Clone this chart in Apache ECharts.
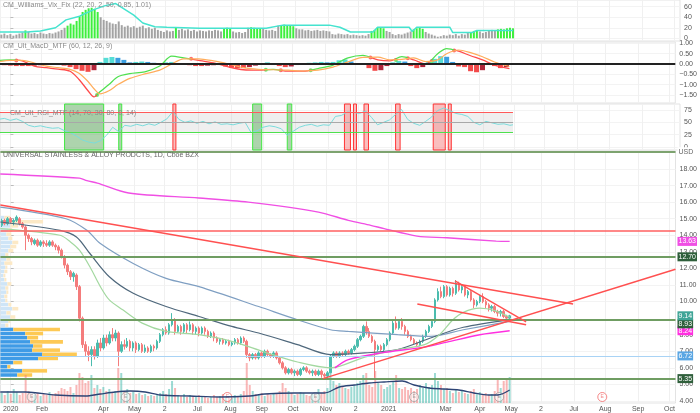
<!DOCTYPE html>
<html><head><meta charset="utf-8">
<script src="https://cdn.jsdelivr.net/npm/echarts@6/dist/echarts.min.js"></script>
<style>html,body{margin:0;padding:0;background:#fff}#c{width:700px;height:413px}</style>
</head><body><div id="c"></div>
<script>
// ---------- x axis (trading-day index, 0 = 2 Jan 2020) ----------
const tickIdx = [0,21,62,83,103,125,147,168,189,211,231,253,291,314,335,355,377,398,420,441];
const tickLabels = ['2020','Feb','Apr','May','2','Jul','Aug','Sep','Oct','Nov','2','2021','Mar','Apr','May','2','Jul','Aug','Sep','Oct'];
const FIRST_BAR = -6, BAR_STEP = 2;

// ---------- price candles [open, close, low, high] ----------
const ohlc = [
[14.6,14.9,14.5,15.0],[14.9,14.7,14.6,15.0],[14.7,15.0,14.6,15.1],[15.0,14.8,14.7,15.1],[14.8,14.9,14.6,15.0],[14.9,15.1,14.8,15.2],[15.0,14.7,14.6,15.1],[14.7,14.5,14.4,14.8],[14.5,14.0,13.1,14.6],[14.0,13.8,13.6,14.1],
[13.8,13.6,13.4,13.9],[13.5,13.7,13.4,13.8],[13.7,13.4,13.3,13.8],[13.4,13.6,13.3,13.7],[13.6,13.5,13.3,13.7],[13.5,13.4,13.3,13.7],[13.4,13.6,13.3,13.7],[13.6,13.4,13.3,13.7],[13.4,13.3,13.1,13.5],[13.3,13.1,12.9,13.4],
[13.1,12.7,12.6,13.2],[12.7,12.2,12.0,12.8],[12.2,11.8,11.6,12.3],[11.8,11.5,11.3,11.9],[11.5,11.7,11.2,11.8],[11.6,10.9,10.7,11.7],[10.9,9.0,8.8,11.0],[9.0,7.4,7.2,9.1],[7.4,7.0,6.7,7.6],[7.0,6.8,6.4,7.3],
[6.8,7.1,6.1,7.3],[7.1,6.7,6.5,7.3],[6.7,7.5,6.6,7.7],[7.5,7.2,7.0,7.8],[7.2,7.8,7.1,8.0],[7.8,7.5,7.3,8.0],[7.5,8.0,7.4,8.2],[8.0,7.8,7.6,8.4],[7.8,8.1,7.6,8.3],[8.1,7.0,6.1,8.2],
[7.0,7.4,6.9,7.6],[7.4,7.3,7.1,7.7],[7.3,7.6,7.2,7.8],[7.6,7.2,7.0,7.7],[7.2,7.5,7.0,7.6],[7.5,7.1,6.9,7.6],[7.1,7.4,7.0,7.5],[7.4,7.0,6.9,7.5],[7.0,7.2,6.9,7.4],[7.2,7.0,6.9,7.3],
[7.0,7.3,6.9,7.4],[7.3,7.2,7.0,7.4],[7.2,7.6,7.1,7.7],[7.6,8.0,7.5,8.1],[8.0,8.3,7.9,8.4],[8.3,8.1,8.0,8.5],[8.1,8.6,8.0,8.7],[8.6,8.9,8.5,9.3],[8.9,8.2,8.0,9.0],[8.2,8.5,8.1,8.6],
[8.5,8.2,8.0,8.6],[8.2,8.6,8.1,8.7],[8.6,8.3,8.1,8.7],[8.3,8.6,8.2,8.8],[8.6,8.2,8.0,8.7],[8.2,8.4,8.0,8.5],[8.4,8.1,7.9,8.5],[8.1,8.4,8.0,8.5],[8.4,8.2,8.0,8.5],[8.2,7.9,7.8,8.3],
[7.9,8.1,7.8,8.2],[8.1,7.8,7.6,8.2],[7.8,7.6,7.5,7.9],[7.6,7.7,7.4,7.8],[7.7,7.5,7.4,7.8],[7.5,7.6,7.4,7.7],[7.6,7.4,7.3,7.7],[7.4,7.5,7.3,7.6],[7.5,7.7,7.4,7.8],[7.7,7.5,7.4,7.8],
[7.5,7.8,7.4,7.9],[7.8,7.6,7.5,7.9],[7.6,6.8,6.6,7.7],[6.8,6.6,6.4,6.9],[6.6,6.8,6.5,6.9],[6.8,6.6,6.5,6.9],[6.6,6.9,6.5,7.0],[6.9,6.7,6.6,7.0],[6.7,7.0,6.6,7.1],[7.0,6.8,6.7,7.1],
[6.8,6.7,6.6,6.9],[6.7,6.9,6.6,7.0],[6.9,6.6,6.5,7.0],[6.6,6.3,6.2,6.7],[6.3,6.0,5.9,6.4],[6.0,5.7,5.6,6.1],[5.7,5.9,5.6,6.0],[5.9,5.7,5.6,6.0],[5.7,5.8,5.5,5.9],[5.8,5.6,5.5,5.9],
[5.6,5.9,5.5,6.0],[5.9,6.0,5.8,6.1],[6.0,5.8,5.7,6.1],[5.8,5.7,5.6,5.9],[5.7,5.8,5.5,5.9],[5.8,5.6,5.5,5.9],[5.6,5.8,5.5,5.9],[5.8,5.6,5.4,5.9],[5.6,5.5,5.4,5.7],[5.5,5.7,5.4,5.8],
[5.7,6.7,5.7,6.8],[6.7,6.9,6.6,7.0],[6.9,6.7,6.6,7.0],[6.7,6.9,6.6,7.0],[6.9,6.8,6.7,7.0],[6.8,7.0,6.7,7.1],[7.0,6.9,6.8,7.1],[6.9,7.1,6.8,7.2],[7.1,7.3,7.0,7.4],[7.3,7.7,7.2,7.8],
[7.7,7.9,7.6,8.0],[7.9,8.5,7.8,8.6],[8.5,8.2,8.0,8.8],[8.2,7.9,7.8,8.4],[7.9,7.6,7.5,8.0],[7.6,7.1,5.4,7.7],[7.1,7.3,7.0,7.4],[7.3,7.1,7.0,7.4],[7.1,7.4,7.0,7.5],[7.4,7.7,7.3,7.8],
[7.7,8.1,7.6,8.2],[8.1,8.7,8.0,8.9],[8.7,8.4,8.3,9.1],[8.4,8.8,8.3,8.9],[8.8,8.5,8.3,9.0],[8.5,8.2,8.0,8.6],[8.2,7.9,7.8,8.3],[7.9,7.7,7.6,8.0],[7.7,7.5,7.4,7.8],[7.5,7.4,7.25,7.6],
[7.4,7.6,7.3,7.7],[7.6,7.9,7.5,8.0],[7.9,8.2,7.8,8.3],[8.2,8.5,8.1,8.6],[8.5,8.8,8.4,8.9],[8.8,10.1,8.7,10.2],[10.1,10.6,10.0,10.8],[10.6,10.3,10.2,10.9],[10.3,10.9,10.2,11.0],[10.9,10.4,10.3,11.0],
[10.4,10.8,10.3,10.9],[10.8,10.5,10.3,10.9],[10.5,11.1,10.4,11.3],[11.1,10.7,10.6,11.2],[10.7,10.9,10.5,11.0],[10.9,10.4,10.3,11.0],[10.4,10.6,10.2,10.7],[10.6,10.1,10.0,10.7],[10.1,9.8,9.6,10.2],[9.8,10.0,9.7,10.1],
[10.0,10.3,9.9,10.4],[10.3,10.0,9.9,10.5],[10.0,9.8,9.6,10.1],[9.8,9.6,9.4,9.9],[9.6,9.7,9.4,9.8],[9.7,9.4,9.3,9.8],[9.4,9.3,9.1,9.5],[9.3,9.4,9.1,9.5],[9.4,9.1,9.0,9.5],[9.1,9.0,8.9,9.2],
[9.0,9.14,8.95,9.2]
];
const volume = [
10,8,12,9,14,11,8,10,28,12, 9,8,10,7,9,8,11,9,10,12, 15,14,12,16,10,18,30,26,20,22, 28,15,18,14,16,12,14,10,12,35,
30,12,14,10,11,9,10,8,9,7, 8,7,9,10,12,9,14,22,15,8, 7,9,6,8,7,6,8,6,7,5, 6,8,6,7,9,6,7,5,8,6,
9,12,40,18,12,9,8,10,7,9, 8,10,9,12,20,15,12,10,8,9, 11,10,8,7,9,8,14,10,12,15, 35,22,18,20,16,15,14,16,18,20,
22,28,30,18,16,32,20,18,14,16, 18,22,28,15,14,16,13,15,12,14, 18,15,20,16,18,30,22,18,14,15, 12,10,14,11,12,10,9,12,14,10,
11,9,10,8,9,12,25,15,22,24, 26];
const volMaX = [-7,10,30,50,60,70,80,90,100,120,140,160,170,190,210,220,230,240,250,262,270,280,290,300,310,320,326,334];
const volMaY = [11,11,8,7,9,11,12,11,8,7,6,7,9,10,10,16,18,20,21,22,18,15,14,13,10,8,8,13];

// ---------- moving averages ----------
const maUpperX = [-7,46,51,58,79,126,159,206,226,241,250,272,292,325,334];
const maUpperY = [17.7,17.45,17.3,17.15,16.55,16.25,16.0,15.4,14.9,14.6,14.4,13.95,13.85,13.65,13.63];
const maPinkX = [217,226,248,277,292,314,334];
const maPinkY = [6.0,6.5,6.9,7.25,7.55,8.0,8.24];
const maGreenX = [-7,33,40,46,53,60,66,75,88,104,126,148,170,192,214,237,259,277,287,296,303,314,324,334];
const maGreenY = [14.4,14.0,13.6,13.1,12.1,10.9,10.1,9.5,8.7,8.2,8.0,7.6,6.95,6.35,6.0,6.65,7.1,7.4,8.0,8.9,9.35,9.6,9.45,9.05];
const maSlateX = [-7,33,44,53,66,82,104,126,148,166,192,214,237,259,281,303,334];
const maSlateY = [14.8,14.3,13.9,12.9,11.5,10.5,9.7,9.1,8.5,8.1,7.4,6.8,6.9,7.1,7.8,8.45,8.9];
const maSteelX = [-7,37,51,60,82,104,126,166,192,214,226,259,281,303,334];
const maSteelY = [15.7,15.0,14.3,13.5,12.3,11.4,10.9,9.7,8.9,8.3,8.2,8.0,7.9,8.3,8.8];

// ---------- drawings ----------
const hLevels = [19.04, 14.28, 12.70, 8.93, 6.72, 5.35];
const hKinds  = ['usd','red','green','green','blue','green'];
const trendLines = [[-6.9,15.83,376.5,9.85],[209,5.35,445,11.95],[297.4,11.25,345,8.77],[272.2,9.85,345,8.6]];
const lastPrice = 9.14;
const earnIdx = [14,77,145,204,270,327,396];
const earnHot = [0,0,1,0,0,0,1];

// ---------- volume profile ----------
const vpPrice = [5.55,5.80,6.05,6.30,6.55,6.80,7.05,7.30,7.55,7.80,8.05,8.30,8.55,8.80,9.05,9.30,9.55,9.80,10.05,10.30,10.55,10.80,11.05,11.30,11.55,11.80,12.05,12.30,12.55,12.80,13.05,13.30,13.55,13.80,14.05,14.30,14.55,14.80,15.05];
const vpUp = [17,22,7,13,38,42,32,33,30,27,25,13,5,8,10,6,12,8,5,4,6,5,7,4,3,4,5,4,6,5,8,10,12,8,6,8,10,9,4];
const vpDn = [15,25,3,9,20,35,28,9,33,11,18,47,3,2,5,4,6,3,2,3,2,3,4,2,2,3,2,8,4,3,5,6,6,4,5,4,8,34,6];
const vaHigh = 8.45;

// ---------- Williams Vix Fix ----------
const vix = [
7,9,6,8,5,7,9,11,15,12, 9,10,8,11,9,8,10,9,11,13, 16,20,24,28,26,33,42,50,54,57, 58,56,50,40,35,33,30,28,27,32,
25,22,24,21,23,20,22,24,19,21, 18,20,16,14,12,15,13,14,20,16, 18,15,17,14,16,13,15,14,13,15, 14,16,15,13,19,20,19,13,11,12,
10,12,20,21,20,19,19,18,16,15, 16,14,24,25,26,25,24,23,19,17, 17,15,16,14,15,16,14,15,14,13, 8,7,9,8,7,8,6,7,6,5,
6,5,8,14,16,20,21,19,14,12, 8,6,8,7,9,11,13,17,19,20, 18,12,9,7,5,3,4,6,5,7, 6,8,5,8,7,10,12,14,15,13,
10,12,14,16,15,17,18,17,19,20, 19];
const vixHighlight = [[10,10],[38,58],[110,110],[142,146],[160,166],[180,188],[240,248],[268,274],[306,310],[324,334]];
const vixBandX = [-7,11,20,30,37,46,55,63,70,76,82,88,96,104,126,170,181,212,219,226,241,244,265,267,270,292,294,307,310,334];
const vixBandY = [12,12,14,20,35,42,54,62,66,55,44,29,22,21,19,19,25,25,21,12,12,21,21,13,21,21,11,11,15,15];

// ---------- MACD ----------
const macdX = [-7,0,8,16,24,32,40,46,52,56,60,66,72,80,90,100,108,116,126,136,146,156,166,176,186,196,206,216,226,236,246,254,262,270,278,286,292,300,308,316,324,334];
const macdLine = [0.18,0.2,0.15,-0.1,-0.18,-0.25,-0.35,-0.75,-1.3,-1.6,-1.35,-1.0,-0.62,-0.47,-0.38,-0.1,0.38,0.3,0.18,0.05,-0.14,-0.28,-0.3,-0.26,-0.35,-0.35,-0.22,-0.05,0.3,0.42,0.2,0.15,0.36,0.2,0.0,0.5,0.75,0.62,0.4,0.2,-0.05,-0.22];
const macdSignal = [0.12,0.18,0.18,0.05,-0.1,-0.18,-0.26,-0.45,-0.85,-1.2,-1.45,-1.3,-1.0,-0.7,-0.48,-0.3,0.0,0.25,0.25,0.15,0.0,-0.18,-0.26,-0.28,-0.3,-0.34,-0.3,-0.15,0.1,0.32,0.33,0.2,0.22,0.3,0.12,0.2,0.5,0.68,0.55,0.35,0.1,-0.12];
const macdHist = [
-0.04,-0.06,-0.08,-0.1,-0.1,-0.1,-0.08,-0.06,-0.05,-0.04, -0.05,-0.08,-0.15,-0.25,-0.33,-0.38,-0.3,0.1,0.3,0.34,
0.3,0.2,0.08,0.1,0.12,0.1,0.06,0.04,0.08,0.1, 0.05,-0.02,-0.06,-0.1,-0.1,-0.08,-0.06,-0.05,-0.12,-0.18,
-0.2,-0.2,-0.15,-0.08,0.05,0.08,-0.05,-0.1,-0.15,-0.12, -0.05,0.04,0.06,0.08,0.1,0.08,0.1,0.18,0.22,0.12,
0.05,0.02,-0.2,-0.33,-0.3,-0.1,0.08,0.15,0.12,-0.1, -0.2,-0.15,0.1,0.25,0.38,0.35,0.1,-0.12,-0.15,-0.35,
-0.4,-0.3,-0.05,-0.1,-0.2,-0.15];
const HIST_FIRST = -8, HIST_STEP = 4;
const macdCross = [4,58,121,171,181,201,241,258,266,282,297];
const macdCrossY = [0.17,-1.5,0.25,-0.28,-0.3,-0.3,0.32,0.2,0.28,0.15,0.65];

// ---------- RSI ----------
const rsi = [
56,58,54,57,52,44,41,43,40,38, 39,33,29,22,14,10,8,13,24,40, 31,44,42,46,43,47,44,50,57,72,
56,50,53,48,52,47,51,46,47,45, 48,50,29,33,40,43,41,37,24,32, 40,44,46,42,45,44,62,64,71,70,
68,73,60,45,50,55,66,76,56,48, 44,52,61,74,79,74,68,66,62,50, 45,52,49,46,47,44,45];
const RSI_FIRST = -8, RSI_STEP = 4, RSI_LAST = 334;
const rsiLevels = [70, 50, 30];
const rsiGreenBands = [[36,62],[72,74],[161,167],[184,187]];
const rsiRedBands = [[108,110],[222,226],[228,230],[235,238],[256,259],[281,289],[291,293]];

// =====================================================
const zip = (a, b) => a.map((v, i) => [v, b[i]]);
const barIdx = ohlc.map((_, i) => FIRST_BAR + BAR_STEP * i);
const X_MIN = -6.9, X_MAX = 445;
const UP = '#4bbcae', DN = '#f47c7c';
const FONT = 'Liberation Sans, Arial, sans-serif';
const CLEAR = 'rgba(0,0,0,0)';

const grids = [
  {top:0, height:41}, {top:42, height:61}, {top:104, height:46}, {top:151, height:252}
].map(g => Object.assign({left:0, right:20, show:true, borderColor:'#e3e3e3', borderWidth:1}, g));

function xAx(gi, showLabel) {
  return {type:'value', gridIndex:gi, min:X_MIN, max:X_MAX,
    axisLine:{show:false}, axisTick:{show:false, customValues:tickIdx},
    axisLabel:{show:showLabel, customValues:tickIdx, fontSize:7, color:'#555', margin:3,
      formatter: v => { const k = tickIdx.indexOf(v); return k >= 0 ? tickLabels[k] : ''; }},
    splitLine:{show:true, lineStyle:{color:'#f0f0f0'}}};
}
function yAx(gi, min, max, ticks, fmt) {
  return {type:'value', gridIndex:gi, position:'right', min, max,
    axisLine:{show:false},
    axisTick:{show:true, customValues:ticks, length:3, lineStyle:{color:'#bbb'}},
    axisLabel:{customValues:ticks, formatter:fmt, fontSize:7, color:'#555', margin:4},
    splitLine:{show:true, lineStyle:{color:'#f3f3f3'}}};
}
const f2 = v => (v < 0 ? '\u2212' : '') + Math.abs(v).toFixed(2);

const xAxis = [xAx(0,false), xAx(1,false), xAx(2,false), xAx(3,true),
  {type:'value', gridIndex:3, min:0, max:680, show:false}];
const yAxis = [
  yAx(0, -5.1, 72.7, [0,20,40,60], v => String(v)),
  yAx(1, -1.893, 1.068, [-1.5,-1,-0.5,0,0.5,1], f2),
  yAx(2, -6.1, 87.2, [0,25,50,75], v => String(v)),
  yAx(3, 3.878, 19.086, [4,5,6,7,8,10,11,12,13,14,15,16,17,18], v => v.toFixed(2)),
  {type:'value', gridIndex:3, min:0, max:252, show:false}
];

const isHi = x => vixHighlight.some(r => x >= r[0] && x <= r[1]);
const boxLabel = (text, bg, fg) => ({show:true, position:'end', distance:2, formatter:text,
  backgroundColor:bg, color:fg || '#fff', padding:[1,1,1,1], fontSize:7, fontFamily:FONT});

const series = [];
// Vix Fix
series.push({type:'bar', xAxisIndex:0, yAxisIndex:0, barWidth:2, silent:true,
  data: barIdx.map((x, i) => ({value:[x, vix[i]], itemStyle:{color: isHi(x) ? '#3def3d' : '#a3a3a3'}}))});
series.push({type:'line', xAxisIndex:0, yAxisIndex:0, data: zip(vixBandX, vixBandY), showSymbol:false,
  lineStyle:{color:'#45e3cf', width:1.5}, silent:true});
// MACD
series.push({type:'bar', xAxisIndex:1, yAxisIndex:1, barWidth:5, silent:true,
  data: macdHist.map((v, i) => {
    const p = i > 0 ? macdHist[i-1] : v;
    const c = v >= 0 ? (v >= p ? '#55ddd6' : '#3b9fe0') : (v <= p ? '#f24a4a' : '#b0253a');
    return {value:[HIST_FIRST + HIST_STEP * i, v], itemStyle:{color:c}};
  }),
  markLine:{silent:true, symbol:['none','none'], label:{show:false},
    lineStyle:{color:'#222', width:2, type:'solid'}, data:[{yAxis:0}]}});
const macdSeriesIndex = series.length;
series.push({type:'line', xAxisIndex:1, yAxisIndex:1, data: zip(macdX, macdLine), showSymbol:false, smooth:0.3,
  lineStyle:{width:1.3}, silent:true});
series.push({type:'line', xAxisIndex:1, yAxisIndex:1, data: zip(macdX, macdSignal), showSymbol:false, smooth:0.3,
  lineStyle:{width:1.2, color:'#ffad5c'}, silent:true});
series.push({type:'scatter', xAxisIndex:1, yAxisIndex:1, symbolSize:4, silent:true,
  data: macdCross.map((x, i) => ({value:[x, macdCrossY[i]], itemStyle:{color: i % 2 === 0 ? '#ff4b4b' : '#4fe04f'}}))});
// RSI
series.push({type:'line', xAxisIndex:2, yAxisIndex:2, showSymbol:false, silent:true,
  data: rsi.map((v, i) => [Math.min(RSI_FIRST + RSI_STEP * i, RSI_LAST), v]),
  lineStyle:{color:'#7adcdc', width:1},
  markArea:{silent:true, data:[
    [{xAxis:X_MIN, yAxis:rsiLevels[2], itemStyle:{color:'rgba(190,190,190,0.25)', borderWidth:0}}, {xAxis:RSI_LAST, yAxis:rsiLevels[0]}],
    ...rsiGreenBands.map(b => [{xAxis:b[0], itemStyle:{color:'rgba(92,170,92,0.5)', borderColor:'#43e843', borderWidth:1}}, {xAxis:b[1]}]),
    ...rsiRedBands.map(b => [{xAxis:b[0], itemStyle:{color:'rgba(245,110,110,0.45)', borderColor:'#ff3535', borderWidth:1}}, {xAxis:b[1]}])
  ]},
  markLine:{silent:true, symbol:['none','none'], label:{show:false}, data:[
    [{coord:[X_MIN, rsiLevels[0]], lineStyle:{color:'#ff5a5a', width:1.2, type:'solid'}}, {coord:[RSI_LAST, rsiLevels[0]]}],
    [{coord:[X_MIN, rsiLevels[1]], lineStyle:{color:'#a8a8a8', width:1, type:'solid'}}, {coord:[RSI_LAST, rsiLevels[1]]}],
    [{coord:[X_MIN, rsiLevels[2]], lineStyle:{color:'#4ee04e', width:1.2, type:'solid'}}, {coord:[RSI_LAST, rsiLevels[2]]}]
  ]}});
// Volume profile
series.push({type:'custom', xAxisIndex:4, yAxisIndex:3, silent:true, z:1,
  data: vpPrice.map((p, i) => [p, vpUp[i], vpDn[i]]),
  encode:{x:1, y:0},
  renderItem: (params, api) => {
    const p = api.value(0), u = api.value(1), d = api.value(2);
    const a = api.coord([0, p + 0.125]);
    const b = api.coord([u, p - 0.125]);
    const c = api.coord([u + d, p - 0.125]);
    const light = p > vaHigh;
    const h = b[1] - a[1] - 0.6;
    return {type:'group', children:[
      {type:'rect', shape:{x:a[0], y:a[1], width:b[0]-a[0], height:h}, style:{fill: light ? '#cfe5f7' : '#3f9be6'}},
      {type:'rect', shape:{x:b[0], y:a[1], width:c[0]-b[0], height:h}, style:{fill: light ? '#fce9c6' : '#fdc955'}}
    ]};
  }});
// Volume
series.push({type:'bar', xAxisIndex:3, yAxisIndex:4, barWidth:2, silent:true,
  data: barIdx.map((x, i) => ({value:[x, volume[i]],
    itemStyle:{color: ohlc[i][1] >= ohlc[i][0] ? 'rgba(75,188,174,0.55)' : 'rgba(244,124,124,0.55)'}}))});
series.push({type:'line', xAxisIndex:3, yAxisIndex:4, data: zip(volMaX, volMaY), showSymbol:false, smooth:0.3,
  lineStyle:{color:'#2d4475', width:1.3}, silent:true});
// MAs
const maLine = (xs, ys, color, w, lbl) => ({type:'line', xAxisIndex:3, yAxisIndex:3, data: zip(xs, ys), showSymbol:false,
  smooth:0.3, lineStyle:{color, width:w}, silent:true,
  markLine: lbl ? {silent:true, symbol:['none','none'], lineStyle:{color:CLEAR, width:1},
    data:[{yAxis: ys[ys.length-1], lineStyle:{color:CLEAR}, label: boxLabel(ys[ys.length-1].toFixed(2), color)}]} : undefined});
series.push(maLine(maSteelX, maSteelY, '#7f9fc2', 1.2));
series.push(maLine(maSlateX, maSlateY, '#4f687c', 1.2));
series.push(maLine(maGreenX, maGreenY, '#a3d8a0', 1.2));
series.push(maLine(maUpperX, maUpperY, '#f04fe4', 1.4, true));
series.push(maLine(maPinkX, maPinkY, '#ff2fe0', 1.4, true));
// Candles + drawings
const levelStyle = {usd:{color:'#7da36f', width:2}, red:{color:'#ff6060', width:1.5}, green:{color:'#6f9d62', width:2}, blue:{color:'#a9d3f5', width:1}};
const levelLabel = (v, k) => k === 'usd' ? boxLabel('USD', '#fff', '#666')
  : k === 'red' ? {show:false}
  : k === 'blue' ? boxLabel(v.toFixed(2), '#5aa6e3')
  : Object.assign(boxLabel(v.toFixed(2), '#2f5f3b'), v === 8.93 ? {verticalAlign:'top'} : {});
series.push({type:'candlestick', xAxisIndex:3, yAxisIndex:3, barWidth:2, silent:true,
  data: barIdx.map((x, i) => [x, ohlc[i][0], ohlc[i][1], ohlc[i][2], ohlc[i][3]]),
  encode:{x:0, y:[1,2,3,4]},
  itemStyle:{color:UP, color0:DN, borderColor:UP, borderColor0:DN, borderWidth:1},
  markLine:{silent:true, symbol:['none','none'], data:[
    ...hLevels.map((v, i) => ({yAxis:v, lineStyle:Object.assign({type:'solid'}, levelStyle[hKinds[i]]), label:levelLabel(v, hKinds[i])})),
    {yAxis:lastPrice, lineStyle:{color:CLEAR}, label:boxLabel(lastPrice.toFixed(2), '#3fa597')},
    ...trendLines.map(t => [{coord:[t[0], t[1]], lineStyle:{color:'#ff5050', width:1.4, type:'solid'}, label:{show:false}}, {coord:[t[2], t[3]]}])
  ]}});
series.push({type:'scatter', xAxisIndex:3, yAxisIndex:4, symbolSize:9, silent:true,
  data: earnIdx.map((x, i) => ({value:[x, 6], itemStyle:{color:'rgba(255,255,255,0.6)', borderColor: earnHot[i] ? '#f26b6b' : '#a0a0a0', borderWidth:1},
    label:{show:true, formatter:'E', fontSize:5, color: earnHot[i] ? '#f26b6b' : '#909090', position:'inside'}}))});

const pieces = [];
const crossColors = ['#4fe04f', '#ff4b4b'];
let prev = null;
macdCross.forEach((c, i) => {
  const p = {lt:c, color: crossColors[i % 2]};
  if (prev !== null) p.gte = prev;
  pieces.push(p); prev = c;
});
pieces.push({gte: prev, color: crossColors[macdCross.length % 2]});

const chart = echarts.init(document.getElementById('c'), null, {renderer:'canvas'});
chart.setOption({
  animation:false,
  backgroundColor:'#fff',
  textStyle:{fontFamily:FONT},
  title:[
    {text:'CM_Williams_Vix_Fix (22, 20, 2, 50, 0.85, 1.01)', left:3, top:2},
    {text:'CM_Ult_MacD_MTF (60, 12, 26, 9)', left:3, top:43},
    {text:'CM_Ult_RSI_MTF (14, 70, 30, 80, 0, 14)', left:10, top:110},
    {text:'UNIVERSAL STAINLESS & ALLOY PRODCTS, 1D, Cboe BZX', left:3, top:152, textStyle:{fontSize:7, color:'#666', fontWeight:'normal', fontFamily:FONT}}
  ].map(t => Object.assign({padding:0, textStyle:{fontSize:7, color:'#8a8a8a', fontWeight:'normal', fontFamily:FONT}}, t)),
  grid: grids,
  xAxis, yAxis,
  visualMap:[{type:'piecewise', show:false, seriesIndex:macdSeriesIndex, dimension:0, pieces}],
  series
});
</script></body></html>
